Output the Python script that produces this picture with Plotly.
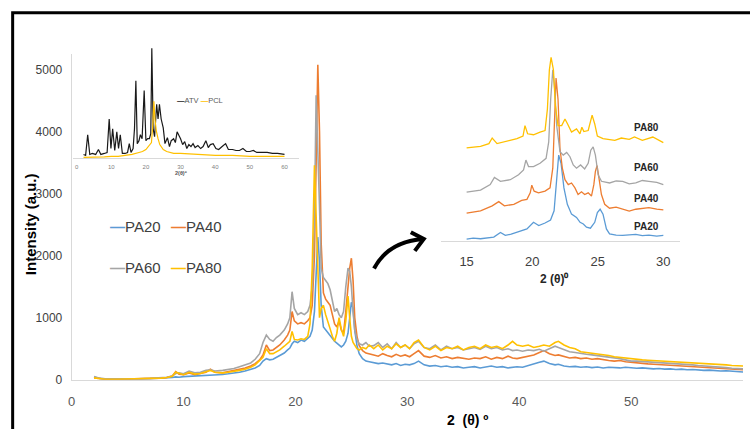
import plotly.graph_objects as go

W, H = 750, 429

# ---------------- main pattern data ----------------
X_MAIN = [
    2, 2.5, 3, 4, 5, 6, 7, 8, 8.5, 9,
    9.3, 9.6, 10, 10.5, 11, 11.5, 12, 12.4, 12.8, 13.5,
    14, 14.5, 15, 15.5, 16, 16.4, 16.8, 17.1, 17.4, 17.7,
    18, 18.3, 18.6, 19, 19.3, 19.5, 19.7, 19.9, 20.2, 20.5,
    20.8, 21.1, 21.3, 21.5, 21.7, 21.85, 22.0, 22.15, 22.3, 22.5,
    22.7, 22.9, 23.1, 23.3, 23.5, 23.7, 23.9, 24.1, 24.3, 24.5,
    24.7, 24.85, 25.0, 25.15, 25.3, 25.5, 25.7, 26.0, 26.3, 26.6,
    27.0, 27.4, 27.8, 28.2, 28.6, 29.0, 29.4, 29.8, 30.2, 30.6,
    31.0, 31.5, 32.0, 32.5, 33.0, 33.5, 34.0, 34.5, 35.0, 35.5,
    36.0, 36.5, 37.0, 37.5, 38.0, 38.5, 39.0, 39.4, 39.8, 40.3,
    40.8, 41.3, 41.8, 42.2, 42.7, 43.2, 43.5, 44.0, 44.5, 45.0,
    45.5, 46.0, 46.5, 47.0, 47.5, 48.0, 48.5, 49.0, 49.5, 50.0,
    50.5, 51.0, 51.5, 52.0, 52.5, 53.0, 53.5, 54.0, 54.5, 55.0,
    55.5, 56.0, 56.5, 57.0, 57.5, 58.0, 58.5, 59.0, 59.5, 60.0,
]
PA20 = [
    45, 20, 10, 8, 10, 12, 15, 20, 25, 35,
    45, 40, 50, 55, 50, 60, 65, 75, 70, 85,
    95, 105, 120, 140, 165, 190, 230, 300, 340, 320,
    330, 360, 390, 430, 480, 510, 580, 620, 600, 640,
    620, 660, 700, 800, 1100, 1700, 2300, 1900, 1200, 850,
    800, 760, 700, 650, 620, 590, 560, 530, 560, 620,
    750, 1000, 1250, 1150, 800, 550, 420, 340, 300, 290,
    270, 260, 270, 250, 240, 260, 230, 250, 240, 260,
    300, 240, 220, 230, 210, 220, 200, 210, 190, 200,
    210, 190, 200, 220, 200, 210, 190, 200, 210, 200,
    230, 250, 280, 300, 260, 240, 250, 220, 210, 215,
    200, 210, 195, 205, 190, 200, 195, 190, 200, 190,
    185, 190, 180, 175, 180, 170, 175, 165, 170, 160,
    165, 155, 150, 155, 145, 140, 145, 135, 130, 125,
]
PA40 = [
    30, 15, 8, 8, 10, 12, 18, 25, 35, 60,
    130, 90, 80, 110, 80, 95, 120, 170, 120, 110,
    130, 140, 160, 190, 220, 260, 320, 400, 560, 470,
    480, 520, 560, 640, 720, 800, 1100, 950, 900, 920,
    900, 950, 1000, 1200, 2000, 3500, 5080, 4000, 2200, 1400,
    1300, 1250, 1200, 1050, 900, 850, 950, 800, 750, 1100,
    1500, 1800, 1960, 1600, 1000, 700, 550, 470, 430, 420,
    400, 380, 420, 390, 370, 410, 380, 400, 370, 420,
    470, 380, 360, 390, 350, 370, 340, 360, 350, 330,
    350, 340, 370, 330, 360, 340, 380, 350, 340, 360,
    380, 400, 440, 470, 420, 390, 400, 370, 350, 360,
    340, 350, 330, 340, 320, 310, 300, 310, 290, 280,
    265, 260, 255, 250, 245, 235, 230, 225, 220, 210,
    205, 200, 195, 190, 185, 180, 175, 170, 165, 160,
]
PA60 = [
    50, 25, 15, 12, 14, 16, 22, 30, 40, 60,
    100, 110, 95, 140, 110, 120, 150, 160, 140, 150,
    160, 180, 210, 240, 270, 330, 420, 600, 720, 650,
    620, 680, 720, 800, 900, 1000, 1420, 1150, 1050, 1080,
    1050, 1100, 1200, 1500, 2600, 4590, 3800, 2800, 1800, 1650,
    1600, 1550, 1450, 1250, 1100, 1150, 1050, 1000, 1100, 1500,
    1800, 1750, 1500, 1100, 800, 650, 580, 560, 600, 540,
    550, 600, 520, 580, 500, 600, 520, 560, 500, 580,
    620, 520, 500, 560, 480, 540, 500, 520, 480, 500,
    520, 490, 540, 500, 520, 480, 500, 470, 480, 460,
    480, 470, 490, 460, 500, 540, 520, 480, 450, 440,
    420, 410, 400, 390, 380, 360, 350, 340, 320, 300,
    300, 295, 290, 285, 275, 270, 265, 260, 255, 245,
    240, 230, 225, 215, 210, 200, 195, 185, 180, 175,
]
PA80 = [
    30, 15, 8, 8, 10, 12, 18, 25, 35, 55,
    120, 100, 80, 120, 90, 100, 130, 150, 120, 110,
    120, 130, 150, 170, 200, 240, 300, 360, 500, 420,
    420, 450, 480, 540, 580, 620, 780, 650, 640, 660,
    650, 700, 900, 1800, 3460, 2600, 1500, 1000, 1150, 1200,
    1050, 950, 820, 700, 620, 750, 1000, 820, 700, 950,
    1350, 1000, 700, 600, 550, 500, 480, 520, 500, 560,
    500, 560, 480, 540, 500, 580, 520, 560, 500, 600,
    640, 520, 480, 540, 470, 520, 500, 540, 480, 520,
    540, 500, 560, 520, 540, 500, 560, 620, 560, 540,
    560, 520, 540, 560, 540, 600, 620, 560, 520, 500,
    450, 440, 430, 410, 400, 390, 370, 360, 345, 330,
    330, 320, 315, 310, 305, 300, 300, 295, 290, 285,
    280, 270, 265, 255, 250, 245, 240, 230, 225, 220,
]
MAIN_NAMES = ["PA20", "PA40", "PA60", "PA80"]
MAIN_X_TICKS = [0, 10, 20, 30, 40, 50, 60]
MAIN_Y_TICKS = [0, 1000, 2000, 3000, 4000, 5000]

# ---------------- inset 1: ATV / PCL ----------------
X_ATV = [2, 2.6, 3.2, 3.8, 4.5, 5.5, 6.3, 7, 8, 8.8, 9.4, 9.9, 10.4, 11, 11.6, 12.1,
         12.6, 13.2, 14, 14.7, 15.2, 15.7, 16.3, 16.7, 17.1, 17.5, 18, 18.4, 18.9,
         19.5, 20, 20.5, 21, 21.4, 21.7, 22.1, 22.5, 23.1, 23.5, 23.9, 24.4, 25,
         25.5, 26.2, 26.8, 27.3, 28, 28.5, 29, 29.5, 30, 30.6, 31.2, 31.8, 32.4,
         33, 33.6, 34.2, 35, 35.8, 36.5, 37.3, 38, 38.6, 39.4, 40.2, 41, 42, 43,
         43.8, 45, 46, 47, 48, 49, 50, 51, 52, 53.5, 55, 56.5, 58, 60]
ATV = [4, 3, 24, 4, 5, 4, 9, 4, 5, 6, 40, 10, 30, 8, 27, 10,
       24, 5, 5, 6, 15, 6, 10, 30, 79, 15, 18, 24, 20,
       69, 18, 20, 20, 25, 112, 30, 22, 55, 40, 55, 40, 31,
       15, 21, 12, 18, 20, 16, 27, 24, 20, 14, 17, 10, 14,
       12, 15, 11, 13, 10, 12, 18, 11, 14, 15, 10, 9, 12, 15,
       9, 9, 8, 8, 10, 7, 7, 8, 6, 6, 6, 5, 5, 4]
X_PCL = [2, 5, 8, 10, 12, 14, 16, 18, 19, 20, 21, 21.6, 22.0, 22.3, 22.6, 23.0,
         23.5, 24, 25, 26, 28, 30, 35, 40, 45, 50, 55, 60]
PCL = [1, 1, 1.5, 2, 2, 3, 4, 6, 7, 9, 13, 16, 35, 58, 40, 28,
       20, 14, 9, 7, 5, 5, 4, 3, 3, 2, 2, 2]
INSET1_X_TICKS = [0, 10, 20, 30, 40, 50, 60]

# ---------------- inset 2: zoom 15-30, stacked ----------------
X_I20 = [15.0, 15.5, 16.06, 16.6, 17.07, 17.58, 17.95, 18.4, 18.84, 19.2, 19.6, 20.1,
         20.5, 20.98, 21.4, 21.67, 21.87, 22.02, 22.2, 22.42, 22.68, 23.0, 23.38,
         23.65, 23.9, 24.14, 24.44, 24.77, 24.97, 25.18, 25.4, 25.66, 25.9, 26.4,
         26.9, 27.4, 27.9, 28.4, 28.9, 29.5, 30.0]
I20 = [2, 3, 2.3, 3.5, 4, 8.7, 5.7, 7, 9, 10, 12.3, 19,
       15.7, 18.3, 21.3, 30.7, 60.7, 87.3, 79, 54, 37.3, 27.3, 24,
       19, 17.3, 14, 13, 19, 29, 32.3, 27.3, 12.3, 7.3, 6,
       5.7, 6.5, 6.7, 5.5, 6, 5, 5.7]
X_I40 = [15.0, 16.06, 16.95, 17.45, 17.88, 18.6, 19.2, 19.6, 19.85, 19.97, 20.15,
         20.48, 20.98, 21.36, 21.57, 21.7, 21.82, 21.97, 22.12, 22.3, 22.5, 22.75,
         23.0, 23.26, 23.5, 23.76, 24.0, 24.27, 24.52, 24.7, 24.82, 24.95, 25.1,
         25.28, 25.53, 25.9, 26.4, 26.9, 27.4, 27.9, 28.4, 28.9, 29.5, 30.0]
I40 = [28.3, 30.7, 35.7, 40, 35.7, 37.3, 41.3, 42.3, 49, 56.7, 50.7,
       49, 50.7, 54, 74, 127.3, 165.7, 144, 94, 74, 62.3, 57.3,
       59, 54, 47.3, 50, 47.3, 49, 45.7, 57.3, 70.7, 76.7, 64,
       47.3, 37.3, 33.3, 34.5, 32.3, 30.5, 32.3, 33.5, 34, 32.5, 31.7]
X_I60 = [15.0, 16.06, 16.8, 17.12, 17.58, 18.33, 18.96, 19.34, 19.52, 19.72, 20.1,
         20.6, 21.06, 21.26, 21.41, 21.57, 21.72, 21.87, 22.12, 22.37, 22.63, 22.88,
         23.13, 23.38, 23.69, 24.0, 24.27, 24.47, 24.65, 24.82, 25.03, 25.28, 25.9,
         26.4, 26.9, 27.4, 27.9, 28.4, 28.9, 29.5, 30.0]
I60 = [49.7, 51.7, 57.3, 64.7, 60.7, 62.3, 67.3, 72.3, 82.3, 75.7, 75.7,
       79, 84, 100.7, 144, 174, 154, 117.3, 90.7, 87.3, 90, 85.7,
       77.3, 74, 77.3, 73.3, 79, 92.3, 95.7, 87.3, 67.3, 60.7, 59,
       61, 60.7, 58, 59, 61.5, 60.7, 59.5, 57.3]
X_I80 = [15.0, 16.06, 16.7, 16.95, 17.32, 18.08, 18.84, 19.3, 19.45, 19.65, 20.1,
         20.6, 20.98, 21.16, 21.31, 21.44, 21.62, 21.77, 21.97, 22.25, 22.5, 22.7,
         23.0, 23.38, 23.64, 23.79, 23.94, 24.27, 24.44, 24.57, 24.77, 24.97, 25.4,
         26.3, 26.8, 27.4, 27.8, 28.4, 29.2, 30.0]
I80 = [94.7, 96.3, 99, 104.7, 99, 101.3, 104, 106.7, 117.3, 109, 108,
       110.7, 112.3, 134, 174, 186.7, 174, 137.3, 117.3, 117.3, 124, 119,
       110.7, 114, 109, 115.7, 111.3, 112.3, 120.7, 128, 119, 106.7, 104,
       102.3, 104.7, 103.3, 105.7, 102.3, 105.7, 100]
INSET2_LABEL_Y = [15, 43, 75, 115]
INSET2_X_TICKS = [15, 20, 25, 30]

COLORS = {"PA20": "#5B9BD5", "PA40": "#ED7D31", "PA60": "#A5A5A5", "PA80": "#FFC000"}
FONT = "Liberation Sans, Arial, sans-serif"


def px(xp):
    """window pixel x -> paper fraction"""
    return xp / W


def py(yp):
    """window pixel y -> paper fraction"""
    return 1 - yp / H


fig = go.Figure()

main_series = {"PA20": PA20, "PA40": PA40, "PA60": PA60, "PA80": PA80}
for name in MAIN_NAMES:
    fig.add_trace(go.Scatter(
        x=X_MAIN, y=main_series[name], mode="lines", name=name, showlegend=False,
        line=dict(color=COLORS[name], width=1.6), xaxis="x", yaxis="y"))

fig.add_trace(go.Scatter(x=X_ATV, y=ATV, mode="lines", name="ATV", showlegend=False,
                         line=dict(color="#1a1a1a", width=1.2), xaxis="x2", yaxis="y2"))
fig.add_trace(go.Scatter(x=X_PCL, y=PCL, mode="lines", name="PCL", showlegend=False,
                         line=dict(color="#FFC000", width=1.2), xaxis="x2", yaxis="y2"))

inset_series = [("PA20", X_I20, I20), ("PA40", X_I40, I40),
                ("PA60", X_I60, I60), ("PA80", X_I80, I80)]
for name, xs, ys in inset_series:
    fig.add_trace(go.Scatter(x=xs, y=ys, mode="lines", name=name + " (15-30)",
                             showlegend=False, line=dict(color=COLORS[name], width=1.3),
                             xaxis="x3", yaxis="y3"))

axis_common = dict(showgrid=False, zeroline=False, ticks="", fixedrange=True)

fig.update_layout(
    width=W, height=H,
    margin=dict(l=0, r=0, t=0, b=0),
    paper_bgcolor="white", plot_bgcolor="white",
    font=dict(family=FONT),
    showlegend=False,
    hovermode=False,
    xaxis=dict(domain=[px(68), px(743)], range=[0, 60], anchor="y",
               tickvals=MAIN_X_TICKS, showline=True, linecolor="#d9d9d9", linewidth=1,
               tickfont=dict(size=13, color="#595959"), ticklabelstandoff=10,
               **axis_common),
    yaxis=dict(domain=[py(386), py(55)], range=[0, (386 - 55) / 63 * 1000], anchor="x",
               tickvals=MAIN_Y_TICKS, showline=True, linecolor="#d9d9d9", linewidth=1,
               tickfont=dict(size=12, color="#404040"), ticklabelstandoff=6,
               **axis_common),
    xaxis2=dict(domain=[px(69), px(297)], range=[-1.15, 64.3], anchor="y2",
                tickvals=INSET1_X_TICKS, showline=True, linecolor="#d9d9d9", linewidth=1,
                tickfont=dict(size=6, color="#7f7f7f"), ticklabelstandoff=2,
                **axis_common),
    yaxis2=dict(domain=[py(161), py(41)], range=[0, 120], anchor="x2",
                visible=False, **axis_common),
    xaxis3=dict(domain=[px(439), px(680)], range=[13.02, 31.3], anchor="y3",
                tickvals=INSET2_X_TICKS, showline=True, linecolor="#d9d9d9", linewidth=1,
                tickfont=dict(size=13, color="#404040"), ticklabelstandoff=8,
                **axis_common),
    yaxis3=dict(domain=[py(245), py(50)], range=[0, 195], anchor="x3",
                visible=False, **axis_common),
)


def legend_entry(name):
    return ("<span style='color:" + COLORS[name] + "'><b>—</b></span>" + name)


annotations = [
    dict(text="<b>Intensity (a.u.)</b>", x=px(26), y=py(228), xref="paper", yref="paper",
         xanchor="center", yanchor="middle",
         textangle=-90, showarrow=False, font=dict(size=15, color="black")),
    dict(text="<b>2  (θ) º</b>", x=px(466), y=py(417), xref="paper", yref="paper",
         xanchor="center", yanchor="top", showarrow=False, font=dict(size=14, color="black")),
    dict(text="<b>2(θ)º</b>", x=px(178), y=py(176), xref="paper", yref="paper",
         xanchor="center", yanchor="middle",
         showarrow=False, font=dict(size=5.5, color="#595959")),
    dict(text="<span style='color:#1a1a1a'><b>—</b></span>ATV "
              "<span style='color:#FFC000'><b>—</b></span>PCL",
         x=px(172), y=py(102), xref="paper", yref="paper", xanchor="left", yanchor="middle",
         showarrow=False, font=dict(size=7.5, color="#595959")),
    dict(text="<b>2 (θ)⁰</b>", x=px(553), y=py(284), xref="paper", yref="paper",
         xanchor="center", yanchor="middle",
         showarrow=False, font=dict(size=12, color="#262626")),
]
# main legend (two rows, two entries per row)
legend_pos = {"PA20": (105, 230), "PA40": (166, 230), "PA60": (105, 272), "PA80": (166, 272)}
for name in MAIN_NAMES:
    lx, ly = legend_pos[name]
    annotations.append(dict(text=legend_entry(name), x=px(lx), y=py(ly), xref="paper",
                            yref="paper", xanchor="left", yanchor="middle", showarrow=False,
                            font=dict(size=15, color="#404040")))
for (name, _, _), ly in zip(inset_series, INSET2_LABEL_Y):
    annotations.append(dict(text="<b>" + name + "</b>", x=28.7, y=ly, xref="x3", yref="y3",
                            xanchor="center", yanchor="middle",
                            showarrow=False, font=dict(size=10, color="#262626")))
fig.update_layout(annotations=annotations)


def pt(xp, yp):
    return f"{px(xp):.5f},{py(yp):.5f}"


fig.update_layout(shapes=[
    dict(type="rect", xref="paper", yref="paper", x0=px(8.7), y0=-0.05, x1=1.05, y1=py(13),
         line=dict(color="black", width=3), fillcolor="rgba(0,0,0,0)", layer="above"),
    dict(type="path", xref="paper", yref="paper",
         path=f"M{pt(372, 273)} Q{pt(386, 246)} {pt(421, 243)}",
         line=dict(color="black", width=4)),
    dict(type="path", xref="paper", yref="paper",
         path=f"M{pt(409, 236)} L{pt(422, 243)} L{pt(413, 255)}",
         line=dict(color="black", width=4)),
])

# remove the page's default body margin so the 750x429 figure fills the window exactly
fig.write_html("out.html", config={"displayModeBar": False, "staticPlot": True},
               post_script="document.body.style.margin='0px';"
                           "document.body.style.lineHeight='0px';"
                           "document.body.style.fontSize='0px';")
